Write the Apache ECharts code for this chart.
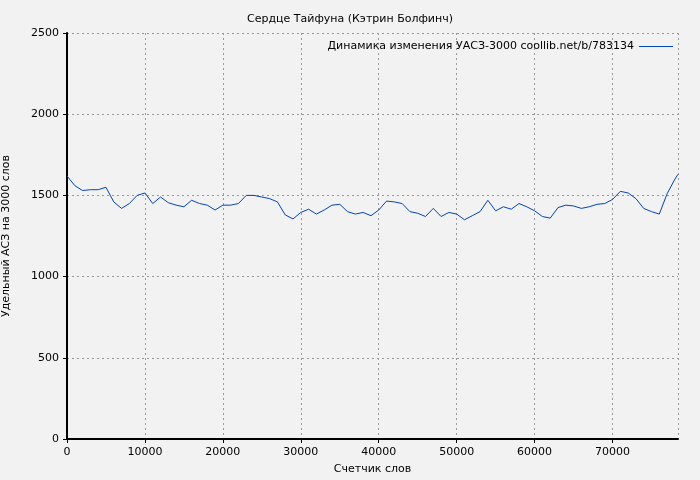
<!DOCTYPE html>
<html><head><meta charset="utf-8">
<script src="https://cdn.jsdelivr.net/npm/echarts@6/dist/echarts.min.js"></script>
<style>html,body{margin:0;background:#f2f2f2}#c{width:700px;height:480px}</style>
</head><body><div id="c"></div>
<script>
// word counter positions (thousands of words)
const wordsK = [0,1,2,3,4,5,6,7,8,9,10,11,12,13,14,15,16,17,18,19,20,21,22,23,24,25,26,27,28,29,30,31,32,33,34,35,36,37,38,39,40,41,42,43,44,45,46,47,48,49,50,51,52,53,54,55,56,57,58,59,60,61,62,63,64,65,66,67,68,69,70,71,72,73,74,75,76,77,78,78.4];
const uasz = [1620,1560,1530,1535,1535,1550,1460,1420,1450,1500,1515,1450,1490,1455,1440,1430,1470,1450,1440,1410,1440,1440,1450,1500,1500,1490,1480,1460,1380,1355,1395,1415,1385,1410,1440,1445,1400,1385,1395,1375,1410,1465,1460,1450,1400,1390,1370,1420,1370,1395,1385,1350,1375,1400,1470,1405,1430,1415,1450,1430,1405,1370,1360,1425,1440,1435,1420,1430,1445,1450,1475,1525,1515,1480,1420,1400,1385,1510,1600,1630];
const yTicks = [0,500,1000,1500,2000,2500];

const chart = echarts.init(document.getElementById('c'));
const font = 'DejaVu Sans';
chart.setOption({
    backgroundColor: '#f2f2f2',
    animation: false,
    textStyle: { fontFamily: font },
    title: { text: 'Сердце Тайфуна (Кэтрин Болфинч)', left: 'center', top: 9,
        textStyle: { fontSize: 11, fontWeight: 'normal', color: '#000', fontFamily: font } },
    legend: { right: 22, top: 36, align: 'right', itemWidth: 34, itemHeight: 8,
        textStyle: { fontSize: 11, color: '#000', fontFamily: font },
        data: [{ name: 'Динамика изменения УАСЗ-3000 coollib.net/b/783134', icon: 'path://M0,4L34,4L34,5L0,5Z' }] },
    grid: { left: 67, right: 22, top: 33, bottom: 41, outerBoundsMode: 'none', containLabel: false },
    xAxis: { type: 'value', min: 0, max: 78400, interval: 10000,
        name: 'Счетчик слов', nameLocation: 'middle', nameGap: 25,
        nameTextStyle: { fontSize: 11, color: '#000' },
        axisLine: { lineStyle: { color: '#000', width: 2 } },
        axisTick: { show: true, length: 4, lineStyle: { color: '#000' } },
        axisLabel: { color: '#000', fontSize: 11, showMaxLabel: false, formatter: v => String(v) },
        splitLine: { show: true, lineStyle: { color: '#999', type: [2, 3] } } },
    yAxis: { type: 'value', min: 0, max: 2500, interval: 500,
        name: 'Удельный АСЗ на 3000 слов', nameLocation: 'middle', nameGap: 55,
        nameTextStyle: { fontSize: 11, color: '#000' },
        axisLine: { show: true, lineStyle: { color: '#000', width: 2 } },
        axisTick: { show: true, inside: false, length: 4, lineStyle: { color: '#000' } },
        axisLabel: { color: '#000', fontSize: 11, formatter: v => yTicks.includes(v) ? String(v) : '' },
        splitLine: { show: true, lineStyle: { color: '#999', type: [2, 3] } } },
    series: [{
        name: 'Динамика изменения УАСЗ-3000 coollib.net/b/783134',
        type: 'line', showSymbol: false,
        lineStyle: { color: '#0044bb', width: 1 }, itemStyle: { color: '#0044bb' },
        data: wordsK.map((w, i) => [w * 1000, uasz[i]])
    }]
});
</script></body></html>
